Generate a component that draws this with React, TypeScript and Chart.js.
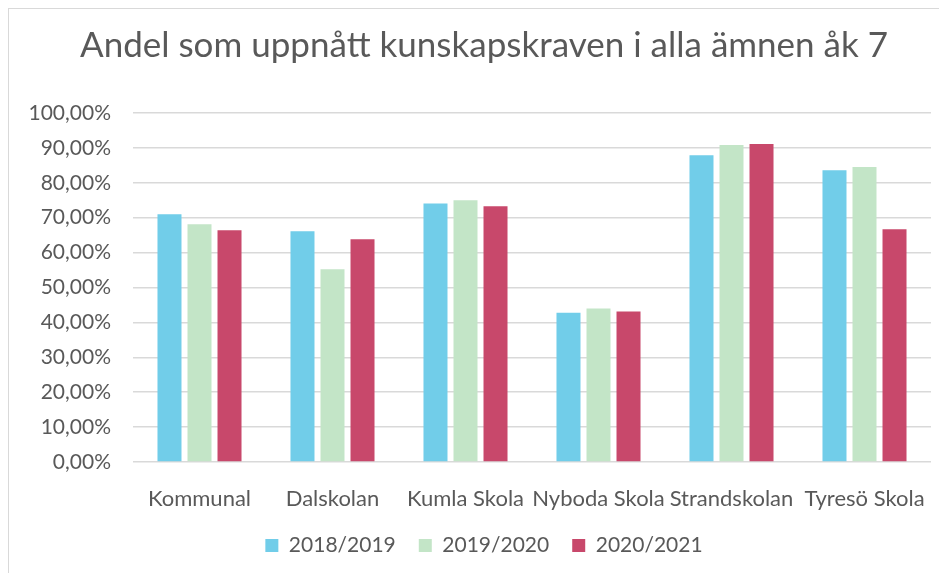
import React, { useEffect, useRef } from "react";
import { Chart, registerables } from "chart.js";

Chart.register(...registerables);

const categories = ["Kommunal", "Dalskolan", "Kumla Skola", "Nyboda Skola", "Strandskolan", "Tyresö Skola"];
const seriesLabels = ["2018/2019", "2019/2020", "2020/2021"];
const values2018 = [71.0, 66.1, 74.1, 42.8, 87.9, 83.6];
const values2019 = [68.1, 55.2, 75.0, 44.0, 90.8, 84.5];
const values2020 = [66.4, 63.8, 73.3, 43.1, 91.1, 66.7];
const colors = ["#71CDE9", "#C3E5C7", "#C8486B"];
const yTicks = [0, 10, 20, 30, 40, 50, 60, 70, 80, 90, 100];
const title = "Andel som uppnått kunskapskraven i alla ämnen åk 7";

const FONT = "Lato";
const TEXT = "#595959";

export default function App() {
  const ref = useRef<HTMLCanvasElement | null>(null);
  useEffect(() => {
    if (!ref.current) return;
    const chart = new Chart(ref.current, {
      type: "bar",
      data: {
        labels: categories,
        datasets: [values2018, values2019, values2020].map((d, i) => ({
          label: seriesLabels[i],
          data: d,
          backgroundColor: colors[i],
          borderWidth: 0,
          categoryPercentage: 0.677,
          barPercentage: 0.8,
          yAxisID: "y",
        })),
      },
      options: {
        animation: false,
        responsive: false,
        maintainAspectRatio: false,
        layout: { padding: { left: 0, right: 0, top: 0, bottom: 18 } },
        plugins: {
          title: {
            display: true,
            text: title,
            color: TEXT,
            font: { family: FONT, size: 35, weight: "normal" },
            padding: { top: 16, bottom: 46 },
          },
          legend: {
            position: "bottom",
            labels: {
              color: TEXT,
              font: { family: FONT, size: 21 },
              boxWidth: 13,
              boxHeight: 13,
              padding: 23,
            },
          },
          tooltip: { enabled: false },
        },
        scales: {
          x: {
            grid: { display: false, drawTicks: false },
            border: { display: false },
            afterFit: (s: any) => {
              s.height = 50;
            },
            ticks: { color: TEXT, font: { family: FONT, size: 22 }, padding: 24, maxRotation: 0, autoSkip: false },
          },
          y: {
            min: 0,
            max: 100,
            afterBuildTicks: (s: any) => {
              s.ticks = yTicks.map((v) => ({ value: v }));
            },
            afterFit: (s: any) => {
              s.width = 124;
            },
            grid: { color: "#D9D9D9", lineWidth: 1.5, drawTicks: false },
            border: { display: false },
            ticks: {
              color: TEXT,
              font: { family: FONT, size: 21 },
              padding: 22,
              callback: (v: any) => Number(v).toFixed(2).replace(".", ",") + "%",
            },
          },
          yRight: {
            position: "right",
            display: true,
            min: 0,
            max: 100,
            grid: { display: false, drawTicks: false },
            border: { display: false },
            ticks: { display: false },
            afterFit: (s: any) => {
              s.width = 28;
            },
          },
        },
      },
    });
    return () => chart.destroy();
  }, []);
  return (
    <div
      style={{
        width: 939,
        height: 565,
        overflow: "hidden",
        borderTop: "1px solid #D9D9D9",
        borderLeft: "1px solid #D9D9D9",
        boxSizing: "border-box",
        background: "#fff",
      }}
    >
      <canvas ref={ref} width={950} height={575} style={{ display: "block", width: 950, height: 575 }} />
    </div>
  );
}
